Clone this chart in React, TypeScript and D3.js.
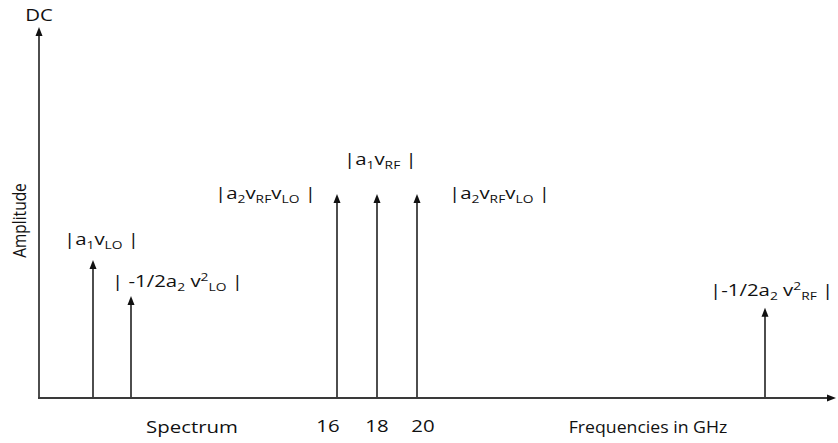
import React from 'react';
import * as d3 from 'd3';

// spike positions along the frequency axis (GHz) and heights (arb. units)
const freqs = [3.8, 5.7, 16, 18, 20, 37.4];
const amps = [3.72, 2.75, 5.5, 5.5, 5.5, 2.43];
const tickValues = [16, 18, 20];

// label text pieces: n = normal, b = subscript, p = superscript
type Part = [string, 'n' | 'b' | 'p'];
const labelParts: Part[][] = [
    [['|a', 'n'], ['1', 'b'], ['v', 'n'], ['LO', 'b'], [' |', 'n']],
    [['| -1/2a', 'n'], ['2', 'b'], [' v', 'n'], ['2', 'p'], ['LO', 'b'], [' |', 'n']],
    [['|a', 'n'], ['2', 'b'], ['v', 'n'], ['RF', 'b'], ['v', 'n'], ['LO', 'b'], [' |', 'n']],
    [['|a', 'n'], ['1', 'b'], ['v', 'n'], ['RF', 'b'], [' |', 'n']],
    [['|a', 'n'], ['2', 'b'], ['v', 'n'], ['RF', 'b'], ['v', 'n'], ['LO', 'b'], [' |', 'n']],
    [['|-1/2a', 'n'], ['2', 'b'], [' v', 'n'], ['2', 'p'], ['RF', 'b'], [' |', 'n']],
];

// where each label sits relative to its spike top (dx from spike x, dy from spike top)
const labelOffsets = [[-29, -15], [-19, -9], [-122, 5], [-33, -29], [32, 5], [-55, -12]];

const W = 838, H = 443;
const margin = {top: 27, right: 2, bottom: 45, left: 39};
const SX = 1.2; // the original is stretched sideways
const FS = 17;

function Stretched({x, y, anchor = 'start', size = FS, sx = SX, children}: any) {
    return (
        <text transform={`translate(${x},${y}) scale(${sx},1)`} textAnchor={anchor} fontSize={size}>
            {children}
        </text>
    );
}

function Label({parts, x, y}: {parts: Part[], x: number, y: number}) {
    let shift = 0;
    return (
        <Stretched x={x} y={y}>
            {parts.map(([t, k], i) => {
                const target = k === 'b' ? 4 : k === 'p' ? -6 : 0;
                const dy = target - shift;
                shift = target;
                return <tspan key={i} dy={dy} fontSize={k === 'n' ? FS : 11.5}>{t}</tspan>;
            })}
        </Stretched>
    );
}

function tipUp(cx: number, cy: number) {
    const p = d3.path();
    p.moveTo(cx, cy);
    p.lineTo(cx + 3.5, cy + 9);
    p.lineTo(cx - 3.5, cy + 9);
    p.closePath();
    return p.toString();
}

export default function App() {
    const x = d3.scaleLinear()
        .domain([1.1, 40.95])
        .range([margin.left, W - margin.right]);
    const y = d3.scaleLinear()
        .domain([0, 10])
        .range([H - margin.bottom, margin.top]);

    const y0 = y(0);
    const ink = '#3a3a3a';
    const xEnd = W - margin.right;

    return (
        <svg width={W} height={H} style={{position: 'absolute', left: 0, top: 0, background: '#fff'}}
             fontFamily="'Open Sans', sans-serif" fill="#111">

            {/* axes */}
            <line x1={margin.left} x2={margin.left} y1={y0} y2={margin.top + 6}
                  stroke={ink} strokeWidth={1.8}/>
            <path d={tipUp(margin.left, margin.top)} fill="#111"/>
            <line x1={margin.left - 1} x2={xEnd - 6} y1={y0} y2={y0}
                  stroke={ink} strokeWidth={1.8}/>
            <path d={`M${xEnd},${y0}L${xEnd - 9},${y0 - 3.5}L${xEnd - 9},${y0 + 3.5}Z`} fill="#111"/>

            {/* spikes */}
            {freqs.map((f, i) => (
                <g key={i}>
                    <line x1={x(f)} x2={x(f)} y1={y0} y2={y(amps[i]) + 6}
                          stroke={ink} strokeWidth={1.8}/>
                    <path d={tipUp(x(f), y(amps[i]))} fill="#111"/>
                </g>
            ))}

            {/* spike labels */}
            {labelParts.map((p, i) => (
                <Label key={i} parts={p}
                       x={x(freqs[i]) + labelOffsets[i][0]}
                       y={y(amps[i]) + labelOffsets[i][1]}/>
            ))}

            {/* tick labels */}
            {tickValues.map((t, i) => (
                <Stretched key={t} x={x(t) + (i === 0 ? -9 : i === 2 ? 6 : 0)} y={432}
                           anchor="middle">{t}</Stretched>
            ))}

            <Stretched x={192} y={433} anchor="middle">Spectrum</Stretched>
            <Stretched x={648} y={433} anchor="middle" sx={1.04}>Frequencies in GHz</Stretched>
            <Stretched x={margin.left} y={21} anchor="middle">DC</Stretched>
            <text transform={`translate(26,${(margin.top + y0) / 2 + 8}) scale(${SX},1) rotate(-90)`}
                  textAnchor="middle" fontSize={15.5}>Amplitude</text>
        </svg>
    );
}
